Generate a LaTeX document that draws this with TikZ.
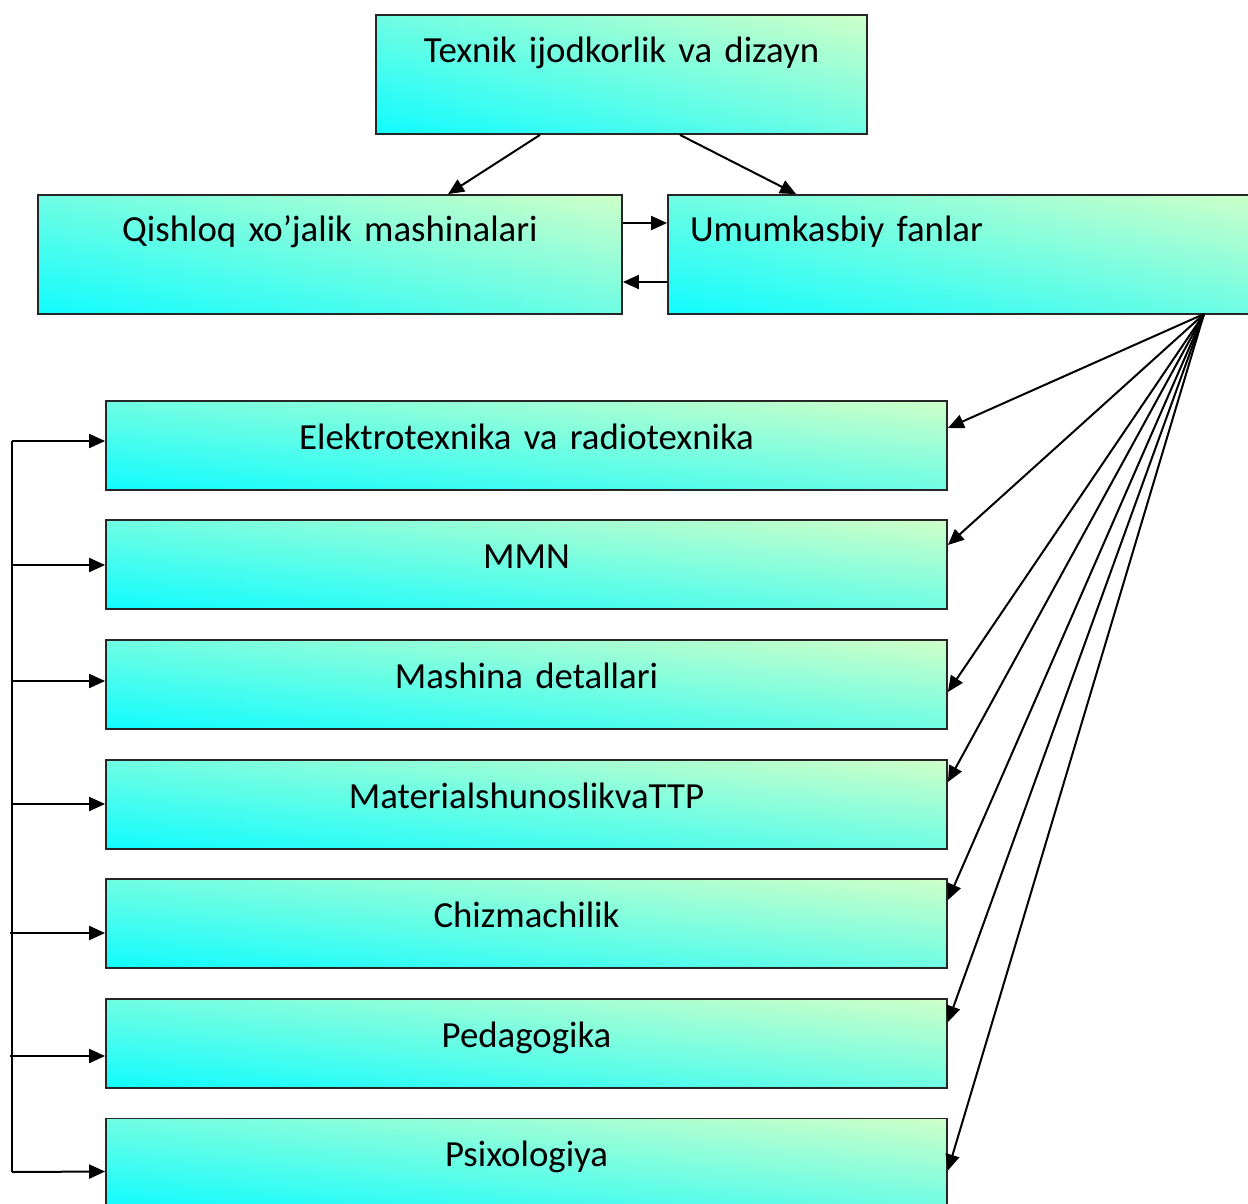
\documentclass[tikz,border=0pt]{standalone}
\usepackage{fontspec}
\setmainfont{Carlito}
\usetikzlibrary{arrows.meta}
\definecolor{gcyan}{RGB}{16,252,255}
\definecolor{ggreen}{RGB}{206,255,200}
\tikzset{
  box/.style={draw=black!85, line width=1.8pt, left color=gcyan, right color=ggreen,
    path picture={\shade[bottom color=gcyan, top color=ggreen, fill opacity=0.5]
      (path picture bounding box.south west) rectangle (path picture bounding box.north east);},
    inner xsep=0pt, inner ysep=0pt, align=center, font=\fontsize{36.8}{44}\selectfont},
  arr/.style={line width=2pt, -{Triangle[length=16pt,width=14pt]}},
  plain/.style={line width=2pt}
}
\begin{document}
\begin{tikzpicture}[x=1pt,y=-1pt]
\useasboundingbox (0,0) rectangle (1248,1203);
\clip (0,0) rectangle (1248,1203);
% top level
\node[box, text width=491pt, text height=47pt, text depth=72pt] (top) at (621.5,74.5) {Texnik ijodkorlik va dizayn};
\node[box, text width=584pt, text height=46pt, text depth=73pt] (q) at (330,254.5) {Qishloq xo’jalik mashinalari};
\node[box, text width=548pt, inner xsep=22pt, align=left, text height=46pt, text depth=73pt] (u) at (964,254.5) {Umumkasbiy fanlar};
% lower boxes
\foreach \n/\y/\t in {b1/445.5/Elektrotexnika va radiotexnika, b2/564.5/MMN, b3/684.5/Mashina detallari, b4/804.5/MaterialshunoslikvaTTP, b5/923.5/Chizmachilik, b6/1043.5/Pedagogika, b7/1163/Psixologiya}{
  \node[box, text width=841pt, text height=48pt, text depth=41pt] (\n) at (526.5,\y) {\t};
}
% top arrows
\draw[arr] ([xshift=-81.5pt]top.south) -- ([xshift=118pt]q.north);
\draw[arr] ([xshift=58.5pt]top.south) -- ([xshift=129pt]u.north west);
\draw[arr] ([yshift=31.5pt]q.east) -- ([yshift=31.5pt]u.west);
\draw[arr] ([yshift=-27.5pt]u.west) -- ([yshift=-27.5pt]q.east);
% fan
\coordinate (fan) at (1204,314);
\draw[arr] (fan) -- ([yshift=17.5pt]b1.east);
\draw[arr] (fan) -- ([yshift=19.5pt]b2.east);
\draw[arr] (fan) -- ([yshift=-7.5pt]b3.east);
\draw[arr] (fan) -- ([yshift=22.5pt]b4.east);
\draw[arr] (fan) -- ([yshift=23.5pt]b5.east);
\draw[arr] (fan) -- ([yshift=21.5pt]b6.east);
\draw[arr] (fan) -- ([yshift=-7.5pt]b7.east);
% left bracket
\coordinate (ltop) at (12,441);
\coordinate (lbot) at (12,1172);
\draw[plain] (ltop) -- (lbot);
\draw[arr] (ltop) -- ([yshift=4.5pt]b1.west);
\draw[arr] (12,565) -- ([yshift=-0.5pt]b2.west);
\draw[arr] (12,681) -- ([yshift=3.5pt]b3.west);
\draw[arr] (12,804) -- ([yshift=0.5pt]b4.west);
\draw[arr] (10,933) -- ([yshift=-9.5pt]b5.west);
\draw[arr] (10,1056) -- ([yshift=-12.5pt]b6.west);
\draw[arr] (lbot) -- ([yshift=-8.5pt]b7.west);
\end{tikzpicture}
\end{document}
